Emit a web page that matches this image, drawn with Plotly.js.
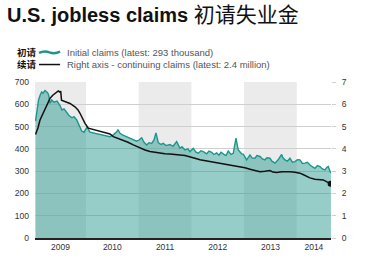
<!DOCTYPE html>
<html><head><meta charset="utf-8">
<script src="https://cdn.plot.ly/plotly-3.0.1.min.js"></script>
<style>html,body{margin:0;padding:0;background:#fff}#chart{width:366px;height:264px}</style>
</head><body><div id="chart"></div>
<script>
// Initial jobless claims (thousands), x in decimal years
var initX = [2009.042, 2009.070, 2009.099, 2009.127, 2009.159, 2009.184, 2009.222, 2009.260, 2009.288, 2009.317,
 2009.349, 2009.393, 2009.450, 2009.507, 2009.545, 2009.583, 2009.634, 2009.677, 2009.734, 2009.772,
 2009.824, 2009.867, 2009.918, 2009.962, 2010.019, 2010.076,
 2010.171, 2010.266, 2010.360, 2010.455, 2010.512, 2010.583, 2010.607, 2010.645, 2010.702, 2010.772,
 2010.835, 2010.892, 2010.962, 2011.006,
 2011.057, 2011.101, 2011.152, 2011.195, 2011.247, 2011.290, 2011.328, 2011.372, 2011.423, 2011.467,
 2011.518, 2011.594, 2011.651, 2011.721, 2011.784, 2011.822, 2011.879, 2011.935, 2011.973,
 2012.036, 2012.087, 2012.131, 2012.182, 2012.226, 2012.290, 2012.334, 2012.385, 2012.429, 2012.480, 2012.524,
 2012.562, 2012.605, 2012.657, 2012.700, 2012.751, 2012.795, 2012.846, 2012.890, 2012.954, 2012.985,
 2013.049, 2013.112, 2013.150, 2013.207, 2013.245, 2013.302, 2013.349, 2013.396, 2013.434, 2013.491,
 2013.529, 2013.586, 2013.643, 2013.713, 2013.738, 2013.776, 2013.823, 2013.871, 2013.918, 2013.966,
 2014.013, 2014.061, 2014.108, 2014.156, 2014.203, 2014.250, 2014.298, 2014.345, 2014.393, 2014.440,
 2014.488, 2014.535, 2014.573, 2014.598, 2014.630, 2014.649];
var initV = [525, 580, 619, 640, 656, 650, 662, 655, 645, 605,
 620, 610, 615, 595, 575, 580, 561, 550, 540, 545,
 530, 505, 480, 475, 498, 475,
 470, 465, 458, 455, 462, 477, 487, 470, 462, 455,
 448, 445, 435, 440,
 450, 430, 418, 428, 425, 440, 472, 428, 420, 425,
 415, 420, 412, 433, 403, 410, 395, 400, 388,
 403, 385, 381, 392, 388, 378, 390, 385, 375, 382, 372,
 385, 378, 370, 390, 375, 380, 448, 395, 378, 377,
 351, 373, 360, 358, 370, 366, 355, 351, 360, 358,
 345, 336, 350, 375, 360, 351, 345, 358, 340, 343,
 352, 351, 335, 336, 340, 328, 322, 313, 325, 321,
 310, 306, 318, 321, 300, 293];
// Continuing claims (millions), right axis
var contX = [2009.042, 2009.089, 2009.127, 2009.175, 2009.222, 2009.269, 2009.317, 2009.364, 2009.412, 2009.450,
 2009.474, 2009.507, 2009.520, 2009.535, 2009.602, 2009.696, 2009.791, 2009.848, 2009.886, 2009.934,
 2009.981, 2010.044, 2010.171, 2010.298, 2010.379, 2010.455, 2010.518, 2010.607, 2010.708, 2010.797,
 2010.898, 2010.968, 2011.025, 2011.120, 2011.214, 2011.309, 2011.404, 2011.499, 2011.594, 2011.689,
 2011.784, 2011.879, 2011.973, 2012.068, 2012.163, 2012.258, 2012.353, 2012.448, 2012.543, 2012.638,
 2012.733, 2012.827, 2012.922, 2013.017, 2013.112, 2013.207, 2013.302, 2013.396, 2013.491, 2013.548,
 2013.619, 2013.713, 2013.776, 2013.871, 2013.966, 2014.061, 2014.118, 2014.188, 2014.250, 2014.345,
 2014.421, 2014.503, 2014.573, 2014.643];
var contV = [4.65, 4.95, 5.30, 5.55, 5.82, 6.05, 6.27, 6.40, 6.49, 6.56,
 6.60, 6.55, 6.60, 6.19, 6.12, 6.04, 5.89, 5.75, 5.60, 5.35,
 5.15, 4.93, 4.85, 4.77, 4.72, 4.67, 4.55, 4.48, 4.40, 4.30,
 4.18, 4.10, 4.03, 3.95, 3.88, 3.84, 3.81, 3.78, 3.77, 3.76,
 3.73, 3.70, 3.65, 3.58, 3.51, 3.47, 3.43, 3.40, 3.36, 3.32,
 3.28, 3.24, 3.21, 3.15, 3.09, 3.03, 2.98, 3.00, 3.03, 2.96,
 2.94, 2.98, 2.99, 2.98, 2.95, 2.91, 2.85, 2.76, 2.70, 2.64,
 2.62, 2.61, 2.52, 2.44];
var years = [2009, 2010, 2011, 2012, 2013, 2014];
var shadedYears = [2009, 2011, 2013];
var yearLabels = ['2009', '2010', '2011', '2012', '2013', '2014'];
var leftTicks = [0, 100, 200, 300, 400, 500, 600, 700];
var rightTicks = [0, 1, 2, 3, 4, 5, 6, 7];
var titleMain = 'U.S. jobless claims';
var titleCn = '初请失业金';
var legendCn = ['初请', '续请'];
var legendText = ['Initial claims (latest: 293 thousand)', 'Right axis - continuing claims (latest: 2.4 million)'];

var xmin = 2009.032, xmax = 2014.65;
var tickPos = years.map(function(y){ return (Math.max(y, xmin) + Math.min(y + 1, xmax)) / 2; });

var FONT = 'Liberation Sans, Arial, Noto Sans CJK SC, sans-serif';
var teal = 'rgb(28,150,140)';

var shapes = shadedYears.map(function(y){
  return {type:'rect', layer:'below', xref:'x', yref:'paper', x0:y, x1:y+1, y0:0, y1:1,
          fillcolor:'#ebebeb', line:{width:0}};
});
shapes.push({type:'path', xref:'paper', yref:'paper',
  path:'M 0.0136,1.186 Q 0.031,1.203 0.049,1.190 Q 0.067,1.178 0.0847,1.195',
  line:{color:teal, width:2.5}});
shapes.push({type:'line', xref:'paper', yref:'paper', x0:0.0136, x1:0.0847, y0:1.112, y1:1.112,
  line:{color:'#111', width:1.5}});

var annotations = [];
var rowsY = [1.189, 1.112];
for (var i = 0; i < 2; i++) {
  annotations.push({xref:'paper', yref:'paper', x:-0.066, y:rowsY[i], xanchor:'left', yanchor:'middle',
    showarrow:false, text:'<b>' + legendCn[i] + '</b>', font:{family:FONT, size:9.5, color:'#111'}});
  annotations.push({xref:'paper', yref:'paper', x:0.1017, y:rowsY[i], xanchor:'left', yanchor:'middle',
    showarrow:false, text:legendText[i], font:{family:FONT, size:9.5, color:'#555'}});
}

var traces = [
  {x:initX, y:initV, type:'scatter', mode:'lines', fill:'tozeroy',
   fillcolor:'rgba(45,155,145,0.5)', line:{color:teal, width:1.4}, hoverinfo:'skip'},
  {x:contX, y:contV, type:'scatter', mode:'lines', yaxis:'y2',
   line:{color:'#111', width:1.5}, hoverinfo:'skip'},
  {x:[contX[contX.length-1]], y:[contV[contV.length-1]], type:'scatter', mode:'markers', yaxis:'y2',
   marker:{color:'#111', size:6}, hoverinfo:'skip'}
];

var layout = {
  width:366, height:264,
  margin:{l:35, r:35, t:82, b:26},
  paper_bgcolor:'#fff', plot_bgcolor:'rgba(0,0,0,0)',
  showlegend:false,
  title:{text:'<b>' + titleMain + '</b> <span style="font-size:21px">' + titleCn + '</span>',
         x:7/366, xanchor:'left', xref:'container', y:1-15/264, yanchor:'middle', yref:'container',
         font:{family:FONT, size:20, color:'#111'}},
  xaxis:{range:[xmin, xmax], tickmode:'array', tickvals:tickPos, ticktext:yearLabels,
         showgrid:false, zeroline:false, showline:true, linecolor:'#222', linewidth:1.5,
         ticks:'', tickfont:{family:FONT, size:8.5, color:'#333'}, fixedrange:true},
  yaxis:{range:[0, 700.5], tickmode:'array', tickvals:leftTicks, showgrid:true, gridcolor:'#cfcfcf',
         gridwidth:1, zeroline:false, ticks:'', ticklabelstandoff:5,
         tickfont:{family:FONT, size:8.5, color:'#333'}, fixedrange:true},
  yaxis2:{range:[0, 7.005], overlaying:'y', side:'right', tickmode:'array', tickvals:rightTicks,
          showgrid:false, zeroline:false, ticks:'outside', ticklen:4, tickcolor:'#cfcfcf',
          ticklabelstandoff:4, tickfont:{family:FONT, size:8.5, color:'#333'}, fixedrange:true},
  shapes:shapes,
  annotations:annotations
};
Plotly.newPlot('chart', traces, layout, {staticPlot:true, displayModeBar:false});
</script></body></html>
